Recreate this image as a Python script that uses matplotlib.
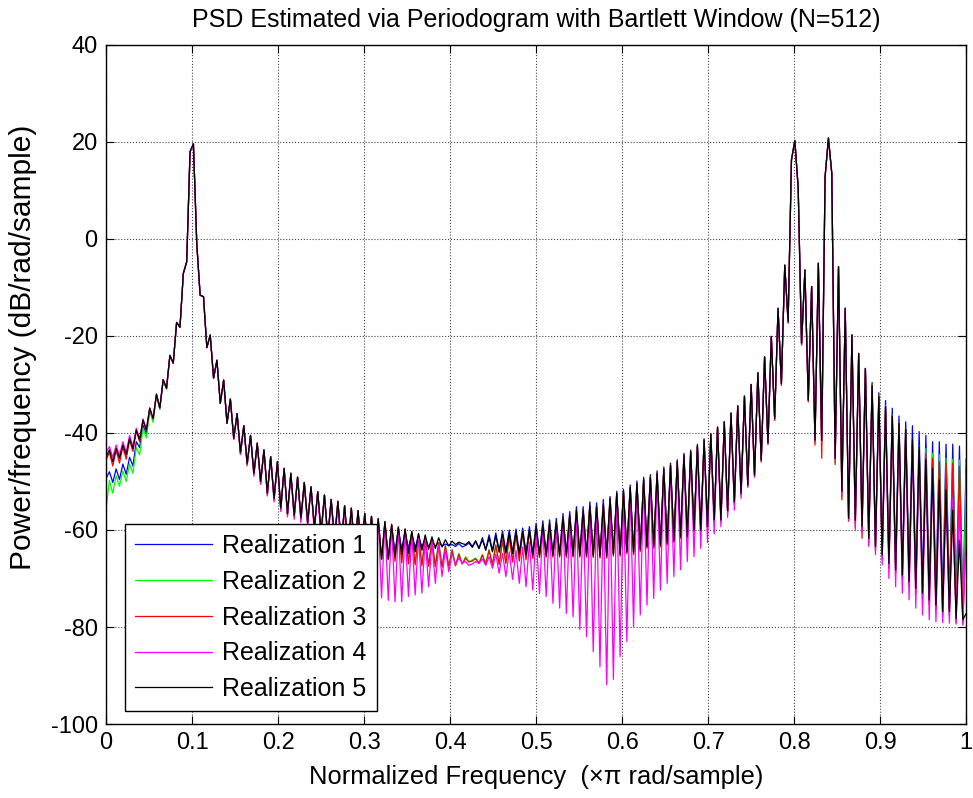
import numpy as np
import matplotlib
matplotlib.use('Agg')
import matplotlib.pyplot as plt

# PSD values (dB/rad/sample), one per frequency bin (257 bins, 0..1 x pi)
real5 = [
    -44.9, -43.5, -45.9, -43.2, -45.2, -42.5, -44.5, -41.1, -43.2, -39.4,
    -41.4, -37.3, -39.4, -34.9, -37.0, -32.0, -34.8, -29.0, -30.8, -24.0,
    -25.6, -17.2, -18.2, -7.1, -4.7, 18.0, 19.6, -1.0, -11.6, -11.9,
    -22.4, -19.8, -28.7, -25.0, -33.9, -29.1, -38.0, -33.0, -41.1, -36.0,
    -44.0, -38.5, -46.3, -40.5, -48.3, -42.1, -50.0, -43.5, -52.4, -44.9,
    -53.5, -45.9, -55.5, -47.3, -56.6, -48.3, -57.0, -49.1, -57.5, -50.2,
    -58.5, -51.1, -59.5, -52.1, -60.5, -52.8, -61.5, -53.7, -62.0, -54.1,
    -63.0, -55.0, -63.5, -55.5, -64.0, -56.0, -64.5, -56.6, -65.0, -57.2,
    -65.5, -57.7, -66.0, -58.3, -66.0, -58.9, -65.5, -59.4, -65.0, -59.8,
    -64.8, -60.3, -64.5, -60.7, -64.2, -61.0, -64.0, -61.4, -63.8, -61.6,
    -63.5, -62.0, -63.3, -62.3, -63.0, -62.5, -62.8, -63.0, -62.4, -63.4,
    -62.2, -63.8, -62.0, -64.2, -61.6, -64.5, -61.2, -64.6, -60.9, -64.8,
    -60.6, -64.9, -60.4, -65.0, -60.3, -65.1, -60.0, -65.2, -59.4, -65.2,
    -58.9, -65.2, -58.7, -65.2, -58.4, -65.2, -57.4, -65.2, -57.0, -65.2,
    -56.0, -65.2, -56.0, -65.3, -55.0, -65.3, -55.2, -65.4, -54.8, -65.4,
    -53.5, -65.0, -52.4, -65.0, -52.1, -64.5, -51.2, -64.7, -50.4, -64.0,
    -49.6, -63.4, -49.1, -63.4, -48.3, -63.1, -47.4, -62.7, -46.6, -62.2,
    -45.9, -61.4, -44.5, -61.4, -43.8, -60.0, -42.6, -60.0, -41.4, -59.3,
    -40.2, -57.9, -38.8, -57.9, -37.7, -56.0, -35.9, -54.2, -34.4, -52.4,
    -32.4, -50.7, -30.0, -48.7, -27.6, -45.6, -24.3, -42.0, -20.1, -37.0,
    -14.3, -29.8, -5.4, -17.0, 16.3, 20.3, 10.5, -21.5, -6.4, -33.2,
    -9.8, -41.5, -5.0, -41.5, 12.8, 20.8, 13.5, -45.2, -5.7, -52.0,
    -14.3, -57.6, -19.8, -58.0, -23.6, -59.3, -26.7, -61.7, -30.2, -63.4,
    -32.5, -65.1, -34.6, -66.9, -36.5, -68.2, -38.0, -69.3, -39.2, -70.6,
    -41.4, -72.0, -42.8, -73.0, -45.4, -74.4, -47.3, -75.5, -49.7, -76.8,
    -51.7, -76.8, -55.9, -78.2, -62.1, -78.5, -77.2,
]

real1 = [
    -49.4, -48.0, -50.2, -47.4, -49.6, -46.4, -48.5, -45.0, -46.8, -41.8,
    -43.0, -38.4, -40.2, -35.3, -37.3, -32.2, -34.9, -29.1, -30.8, -24.0,
    -25.6, -17.2, -18.2, -7.1, -4.7, 18.0, 19.6, -1.0, -11.6, -11.9,
    -22.4, -19.8, -28.7, -25.0, -33.9, -29.1, -38.0, -33.0, -41.1, -36.0,
    -44.0, -38.5, -46.3, -40.5, -48.3, -42.1, -50.0, -43.5, -52.4, -44.9,
    -53.5, -45.9, -55.5, -47.3, -56.6, -48.3, -57.0, -49.1, -57.5, -50.2,
    -58.5, -51.1, -59.5, -52.1, -60.5, -52.8, -61.5, -53.7, -62.0, -54.1,
    -63.0, -55.0, -63.5, -55.5, -64.0, -56.0, -64.5, -56.6, -65.0, -57.2,
    -65.5, -57.7, -66.0, -58.3, -66.0, -59.2, -64.5, -59.8, -64.0, -60.3,
    -63.8, -60.8, -63.6, -61.3, -63.5, -61.8, -63.4, -62.3, -63.3, -62.6,
    -63.3, -62.9, -63.2, -63.0, -63.4, -62.8, -63.5, -63.2, -62.7, -63.6,
    -62.4, -63.8, -61.6, -64.0, -61.0, -64.2, -60.6, -64.3, -60.2, -64.4,
    -60.0, -64.6, -59.8, -64.7, -59.6, -64.8, -59.3, -64.9, -58.6, -65.0,
    -58.1, -65.0, -57.9, -65.0, -57.6, -65.0, -56.6, -65.0, -56.2, -65.0,
    -55.2, -65.0, -55.2, -65.0, -54.2, -65.0, -54.4, -65.1, -53.7, -65.2,
    -53.1, -64.8, -52.0, -64.8, -51.6, -64.3, -50.7, -64.5, -49.9, -63.8,
    -49.1, -63.2, -48.6, -63.2, -47.8, -62.9, -47.0, -62.5, -46.2, -62.0,
    -45.5, -61.2, -44.2, -61.2, -43.5, -59.8, -42.3, -59.8, -41.2, -59.1,
    -40.2, -57.9, -38.8, -57.9, -37.7, -56.0, -35.9, -54.2, -34.4, -52.4,
    -32.4, -50.7, -30.0, -48.7, -27.6, -45.6, -24.3, -42.0, -20.1, -37.0,
    -14.3, -29.8, -5.4, -17.0, 16.3, 20.3, 10.5, -21.5, -6.4, -33.2,
    -9.8, -41.5, -5.0, -41.5, 12.8, 20.8, 13.5, -45.2, -5.7, -52.0,
    -14.3, -57.6, -19.8, -58.0, -23.6, -59.3, -26.7, -61.7, -29.6, -63.0,
    -31.7, -64.5, -33.3, -66.0, -34.9, -67.0, -36.5, -68.0, -37.7, -69.0,
    -38.5, -70.0, -39.7, -71.0, -40.5, -72.0, -41.8, -73.0, -41.8, -74.0,
    -42.3, -74.5, -42.3, -75.0, -42.7, -75.5, -45.4,
]

real2 = [
    -55.7, -49.8, -52.4, -48.8, -51.0, -47.8, -50.0, -46.4, -48.3, -43.0,
    -44.5, -39.0, -41.0, -35.5, -37.8, -32.3, -35.2, -29.2, -31.0, -24.1,
    -25.6, -17.2, -18.2, -7.1, -4.7, 18.0, 19.6, -1.0, -11.6, -11.9,
    -22.4, -19.8, -28.7, -25.0, -33.9, -29.1, -38.0, -33.0, -41.1, -36.0,
    -44.5, -38.5, -46.8, -40.5, -48.8, -42.1, -50.5, -43.5, -52.9, -44.9,
    -54.0, -45.9, -56.0, -47.3, -57.0, -48.3, -57.5, -49.1, -58.0, -50.2,
    -58.5, -51.1, -59.5, -52.1, -60.5, -52.8, -61.5, -53.7, -62.0, -54.1,
    -63.0, -55.0, -63.5, -55.5, -64.0, -56.0, -64.5, -56.6, -65.0, -57.2,
    -65.5, -57.7, -66.0, -58.3, -66.0, -59.0, -66.0, -59.6, -66.3, -60.0,
    -66.5, -60.5, -66.8, -61.0, -67.0, -61.5, -67.2, -62.0, -67.3, -62.5,
    -67.4, -63.2, -67.5, -64.0, -67.3, -64.8, -67.0, -65.5, -66.5, -66.2,
    -65.8, -66.8, -65.0, -67.0, -64.0, -67.0, -63.0, -67.0, -62.0, -66.8,
    -61.3, -66.5, -60.8, -66.3, -60.5, -66.0, -60.2, -65.8, -59.5, -65.6,
    -59.0, -65.5, -58.7, -65.5, -58.4, -65.5, -57.4, -65.5, -57.0, -65.5,
    -56.0, -65.5, -56.0, -65.5, -55.0, -65.5, -55.2, -65.6, -54.8, -65.6,
    -53.5, -65.2, -52.4, -65.2, -52.1, -64.7, -51.2, -64.9, -50.4, -64.2,
    -49.6, -63.6, -49.1, -63.6, -48.3, -63.3, -47.4, -62.9, -46.6, -62.4,
    -45.9, -61.6, -44.5, -61.6, -43.8, -60.2, -42.6, -60.2, -41.4, -59.5,
    -40.2, -58.1, -38.8, -58.1, -37.7, -56.2, -35.9, -54.4, -34.4, -52.6,
    -32.4, -50.9, -30.0, -48.9, -27.6, -45.8, -24.3, -42.2, -20.1, -37.2,
    -14.3, -30.0, -5.4, -17.2, 16.3, 20.3, 10.5, -21.7, -6.4, -33.4,
    -9.8, -42.0, -5.0, -42.5, 12.8, 20.8, 13.5, -46.0, -5.7, -53.0,
    -14.3, -57.8, -19.8, -58.5, -23.6, -59.8, -26.7, -62.0, -30.0, -63.8,
    -32.3, -65.5, -34.4, -67.3, -36.3, -68.6, -37.9, -69.7, -39.1, -71.0,
    -41.6, -72.4, -42.7, -73.4, -43.2, -74.8, -44.2, -75.9, -44.5, -77.2,
    -45.2, -77.2, -45.4, -78.6, -45.6, -78.9, -48.6,
]

real3 = [
    -45.6, -44.0, -46.8, -43.6, -46.2, -42.9, -45.4, -41.5, -43.8, -39.6,
    -41.8, -37.4, -39.6, -34.9, -37.1, -32.0, -34.9, -29.0, -30.8, -24.0,
    -25.6, -17.2, -18.2, -7.1, -4.7, 18.0, 19.6, -1.0, -11.6, -11.9,
    -22.4, -19.8, -28.7, -25.0, -33.9, -29.1, -38.0, -33.0, -41.3, -36.0,
    -44.2, -38.5, -46.5, -40.5, -48.5, -42.1, -50.2, -43.5, -52.6, -44.9,
    -53.7, -45.9, -55.7, -47.3, -56.8, -48.3, -57.2, -49.1, -57.7, -50.2,
    -58.5, -51.1, -59.5, -52.1, -60.5, -52.8, -61.5, -53.7, -62.0, -54.1,
    -63.0, -55.0, -63.5, -55.5, -64.0, -56.0, -64.5, -56.6, -65.0, -57.2,
    -65.5, -57.7, -66.0, -58.3, -66.0, -58.8, -66.5, -59.3, -66.8, -59.8,
    -67.0, -60.3, -67.2, -60.8, -67.4, -61.4, -67.5, -62.0, -67.6, -62.6,
    -67.7, -63.3, -67.6, -64.2, -67.4, -65.0, -67.0, -65.8, -66.6, -66.4,
    -65.9, -66.9, -65.2, -67.1, -64.2, -67.2, -63.2, -67.1, -62.2, -66.9,
    -61.4, -66.6, -60.9, -66.4, -60.5, -66.1, -60.2, -65.9, -59.5, -65.7,
    -59.0, -65.6, -58.7, -65.6, -58.4, -65.6, -57.4, -65.6, -57.0, -65.6,
    -56.0, -65.6, -56.0, -65.6, -55.0, -65.7, -55.2, -65.8, -54.8, -65.8,
    -53.5, -65.4, -52.4, -65.4, -52.1, -64.9, -51.2, -65.1, -50.4, -64.4,
    -49.6, -63.8, -49.1, -63.8, -48.3, -63.5, -47.4, -63.1, -46.6, -62.6,
    -45.9, -61.8, -44.5, -61.8, -43.8, -60.4, -42.6, -60.4, -41.4, -59.7,
    -40.2, -58.3, -38.8, -58.3, -37.7, -56.4, -35.9, -54.6, -34.4, -52.8,
    -32.4, -51.1, -30.0, -49.1, -27.6, -46.0, -24.3, -42.4, -20.1, -37.4,
    -14.3, -30.2, -5.4, -17.4, 16.3, 20.3, 10.5, -21.9, -6.4, -33.6,
    -9.8, -42.5, -5.0, -45.2, 12.8, 20.8, 13.5, -46.5, -5.7, -53.8,
    -14.3, -58.2, -19.8, -59.5, -23.6, -61.7, -26.7, -62.6, -30.1, -64.3,
    -32.4, -66.0, -34.5, -67.8, -36.4, -69.1, -38.0, -70.2, -39.2, -71.5,
    -42.0, -72.9, -43.5, -73.9, -44.2, -75.3, -45.2, -76.4, -45.9, -77.7,
    -46.2, -77.7, -46.2, -79.1, -46.9, -79.4, -60.5,
]

real4 = [
    -44.0, -42.8, -45.0, -42.5, -44.6, -41.8, -44.0, -40.5, -42.8, -39.0,
    -41.2, -37.1, -39.3, -34.8, -37.0, -32.0, -34.8, -29.0, -30.8, -24.0,
    -25.6, -17.2, -18.2, -7.1, -4.7, 18.0, 19.6, -1.0, -11.6, -11.9,
    -22.4, -19.8, -28.7, -25.0, -33.9, -29.1, -38.0, -33.0, -41.3, -36.0,
    -44.4, -38.5, -46.7, -40.5, -48.9, -42.1, -50.6, -43.5, -53.0, -44.9,
    -54.2, -45.9, -56.2, -47.3, -57.3, -48.3, -57.8, -49.1, -58.5, -50.2,
    -59.5, -51.1, -60.8, -52.1, -62.0, -52.8, -63.2, -53.7, -64.5, -54.1,
    -66.0, -55.0, -67.5, -55.5, -69.0, -56.0, -70.5, -56.6, -72.0, -57.2,
    -73.0, -57.7, -74.0, -58.3, -74.5, -58.9, -74.8, -59.5, -74.8, -60.0,
    -73.7, -60.6, -73.4, -61.2, -73.0, -61.8, -71.7, -62.5, -71.0, -63.2,
    -69.6, -64.0, -68.6, -64.8, -67.2, -65.8, -66.8, -66.5, -67.3, -67.0,
    -66.5, -66.9, -66.0, -67.3, -65.5, -67.9, -65.0, -68.9, -64.8, -69.6,
    -64.5, -70.2, -64.2, -71.0, -63.5, -71.7, -62.5, -72.4, -61.0, -73.1,
    -59.5, -73.7, -59.0, -75.1, -58.6, -76.1, -57.6, -77.2, -57.2, -77.9,
    -56.2, -80.5, -56.2, -82.0, -55.2, -85.1, -55.4, -88.2, -55.0, -91.9,
    -53.7, -90.8, -52.6, -86.1, -52.3, -83.0, -51.4, -79.9, -50.6, -77.5,
    -49.8, -75.5, -49.3, -74.1, -48.5, -72.4, -47.6, -71.0, -46.8, -69.6,
    -46.1, -68.2, -44.7, -66.5, -44.0, -65.5, -42.8, -63.8, -41.6, -62.6,
    -40.4, -60.8, -39.0, -59.3, -37.9, -57.4, -36.1, -55.9, -34.6, -53.5,
    -32.6, -51.2, -30.2, -49.0, -27.6, -45.6, -24.3, -42.0, -20.1, -37.0,
    -14.3, -29.8, -5.4, -17.0, 16.3, 20.3, 10.5, -21.8, -6.4, -33.2,
    -9.8, -41.5, -5.0, -42.0, 12.8, 20.8, 13.5, -45.5, -5.7, -52.5,
    -14.3, -58.0, -19.8, -60.0, -23.6, -60.5, -26.7, -63.4, -30.5, -65.1,
    -33.0, -67.2, -35.0, -70.0, -37.0, -71.7, -38.8, -73.0, -40.5, -74.4,
    -42.5, -76.1, -44.5, -77.5, -47.0, -78.5, -49.5, -78.9, -51.5, -79.1,
    -53.0, -79.2, -53.5, -79.4, -55.0, -79.6, -58.6,
]

labels = ['Realization 1', 'Realization 2', 'Realization 3', 'Realization 4', 'Realization 5']
colors = ['#0000ff', '#00ff00', '#ff0000', '#ff00ff', '#000000']

plt.rcParams['font.family'] = ['Liberation Sans', 'DejaVu Sans']

fig = plt.figure(figsize=(9.73, 7.98), dpi=100)
ax = fig.add_axes([0.109, 0.0927, 0.884, 0.851])

series = [real1, real2, real3, real4, real5]
for vals, lab, col in zip(series, labels, colors):
    w = np.linspace(0, 1, len(vals))
    ax.plot(w, vals, color=col, lw=0.9, label=lab)

ax.set_xlim(0, 1)
ax.set_ylim(-100, 40)
ax.set_xticks(np.arange(0, 1.01, 0.1))
ax.set_xticklabels(['0', '0.1', '0.2', '0.3', '0.4', '0.5', '0.6', '0.7', '0.8', '0.9', '1'])
ax.set_yticks(np.arange(-100, 41, 20))
ax.set_yticklabels(['-100', '-80', '-60', '-40', '-20', '0', '20', '40'])
ax.tick_params(direction='in', top=True, right=True, labelsize=17, length=6, pad=6)
ax.grid(True, color='#444444', linestyle=':', linewidth=0.8)
for s in ax.spines.values():
    s.set_linewidth(1.0)

ax.set_title('PSD Estimated via Periodogram with Bartlett Window (N=512)', fontsize=18, pad=13)
ax.set_xlabel('Normalized Frequency  (\u00d7\u03c0 rad/sample)', fontsize=18.4, labelpad=8)
ax.set_ylabel('Power/frequency (dB/rad/sample)', fontsize=21.5)
ax.yaxis.set_label_coords(-0.08, 0.555)

leg = ax.legend(loc='lower left', bbox_to_anchor=(0.0218, 0.019), borderaxespad=0,
                fontsize=18, fancybox=False, edgecolor='black', framealpha=1,
                handlelength=3.1, handletextpad=0.4, borderpad=0.4, labelspacing=0.47)
leg.get_frame().set_linewidth(1.0)

fig.savefig('out.png', dpi=100)
